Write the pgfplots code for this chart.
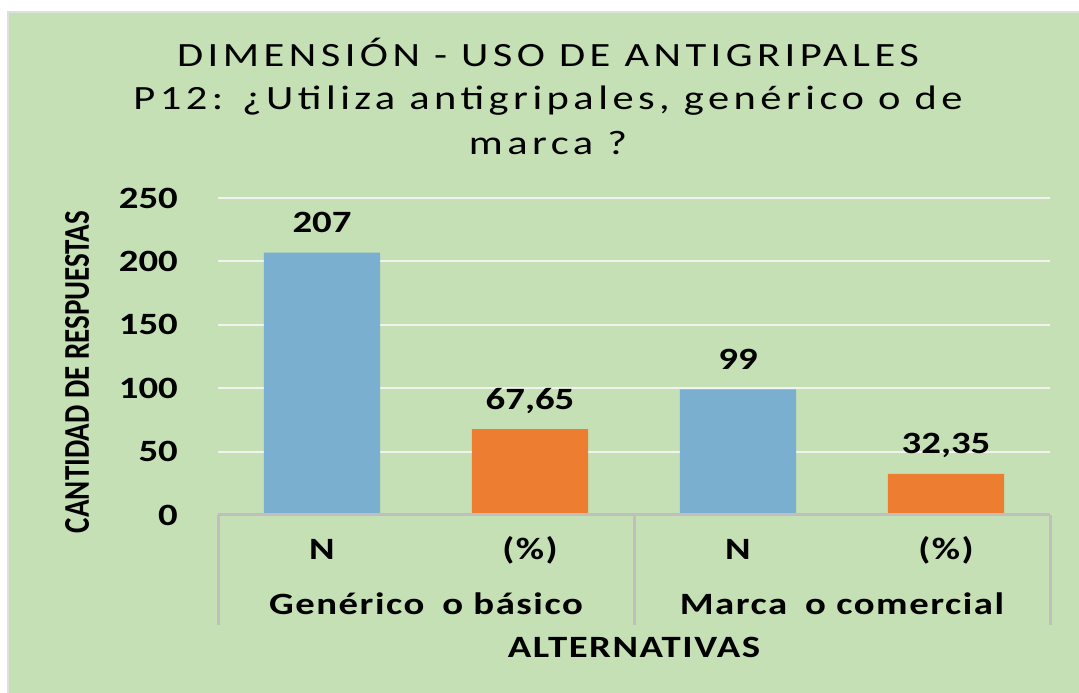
\documentclass[border=0pt]{standalone}
\usepackage{pgfplots}
\pgfplotsset{compat=1.18}
\usepackage{fontspec}
\setmainfont{Carlito}
\newfontfamily\titlefont[LetterSpace=10.5]{Carlito}
\newfontfamily\catfont[LetterSpace=4]{Carlito}
\usepackage{graphicx}
\definecolor{bggreen}{HTML}{C5E0B4}
\definecolor{barblue}{HTML}{7BAFD0}
\definecolor{barorange}{HTML}{ED7D31}
\definecolor{axisgray}{HTML}{BFBFBF}
\definecolor{gridwhite}{HTML}{F2F2F2}
\newcommand{\sx}[1]{\scalebox{1.25}[1]{#1}}
\begin{document}
\begin{tikzpicture}[x=1pt,y=1pt]
\useasboundingbox (0,0) rectangle (1079,693);
\fill[white] (0,0) rectangle (1079,693);
\fill[bggreen] (8,0) rectangle (1079,681);
\draw[gray!25, line width=2pt] (8,0) -- (8,681) -- (1079,681);
% title
\node[anchor=base, inner sep=0pt, font=\titlefont\fontsize{34}{40}\selectfont] at (548,626) {\sx{DIMENSIÓN - USO DE ANTIGRIPALES}};
\node[anchor=base, inner sep=0pt, font=\titlefont\fontsize{34}{40}\selectfont] at (548,583) {\sx{P12: ¿Utiliza antigripales, genérico o de}};
\node[anchor=base, inner sep=0pt, font=\titlefont\fontsize{34}{40}\selectfont] at (548,538) {\sx{marca ?}};
% y label
\node[rotate=90, inner sep=0pt, font=\bfseries\fontsize{29}{34}\selectfont] at (77,321) {\scalebox{1}[1.25]{CANTIDAD DE RESPUESTAS}};
\begin{axis}[
  at={(218pt,178pt)}, anchor=south west,
  scale only axis, width=832pt, height=317pt,
  xmin=-0.5, xmax=3.5, ymin=0, ymax=250,
  axis line style={draw=none},
  major tick length=0pt,
  xtick=\empty,
  ytick={0,50,100,150,200,250},
  yticklabels={\sx{0},\sx{50},\sx{100},\sx{150},\sx{200},\sx{250}},
  yticklabel style={font=\bfseries\fontsize{31}{36}\selectfont, anchor=east, inner sep=0pt, xshift=-40pt},
  ymajorgrids,
  grid style={color=gridwhite, line width=2pt},
  clip=false,
  ybar, bar width=0.558,
  /pgf/number format/assume math mode=true,
  /pgf/number format/use comma,
  /pgf/number format/fixed,
  /pgf/number format/precision=2,
  nodes near coords={\sx{\pgfmathprintnumber{\pgfplotspointmeta}}},
  every node near coord/.append style={font=\bfseries\fontsize{31}{36}\selectfont, text=black, anchor=base, inner sep=0pt, yshift=20pt},
]
\addplot[fill=barblue, draw=none, bar shift=0pt] coordinates {(0,207) (2,99)};
\addplot[fill=barorange, draw=none, bar shift=0pt] coordinates {(1,67.65) (3,32.35)};
\draw[axisgray, line width=3pt] (axis cs:-0.5,0) -- (axis cs:3.5,0);
\draw[axisgray, line width=3pt] (axis cs:-0.5,0) -- ([yshift=-110pt]axis cs:-0.5,0);
\draw[axisgray, line width=3pt] (axis cs:1.5,0) -- ([yshift=-110pt]axis cs:1.5,0);
\draw[axisgray, line width=3pt] (axis cs:3.5,0) -- ([yshift=-110pt]axis cs:3.5,0);
\node[anchor=base, inner sep=0pt, font=\catfont\bfseries\fontsize{31}{36}\selectfont, yshift=-45pt] at (axis cs:0,0) {\sx{N}};
\node[anchor=base, inner sep=0pt, font=\catfont\bfseries\fontsize{31}{36}\selectfont, yshift=-45pt] at (axis cs:1,0) {\sx{(\%)}};
\node[anchor=base, inner sep=0pt, font=\catfont\bfseries\fontsize{31}{36}\selectfont, yshift=-45pt] at (axis cs:2,0) {\sx{N}};
\node[anchor=base, inner sep=0pt, font=\catfont\bfseries\fontsize{31}{36}\selectfont, yshift=-45pt] at (axis cs:3,0) {\sx{(\%)}};
\node[anchor=base, inner sep=0pt, font=\catfont\bfseries\fontsize{31}{36}\selectfont, yshift=-100pt] at (axis cs:0.5,0) {\sx{Genérico\hspace{6pt} o básico}};
\node[anchor=base, inner sep=0pt, font=\catfont\bfseries\fontsize{31}{36}\selectfont, yshift=-100pt] at (axis cs:2.5,0) {\sx{Marca\hspace{6pt} o comercial}};
\node[anchor=base, inner sep=0pt, font=\catfont\bfseries\fontsize{31}{36}\selectfont, yshift=-143pt] at (axis cs:1.5,0) {\sx{ALTERNATIVAS}};
\end{axis}
\end{tikzpicture}
\end{document}
